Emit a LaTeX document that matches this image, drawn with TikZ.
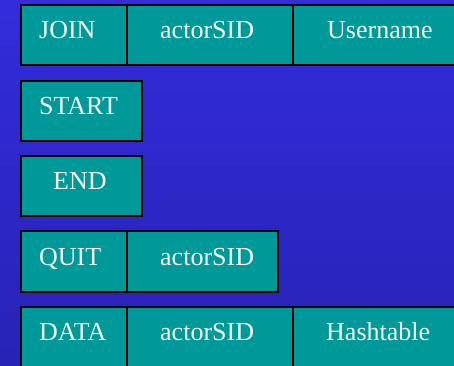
\documentclass[tikz,border=0pt]{standalone}
\usepackage{fontspec}
\setmainfont{Liberation Serif}
\definecolor{bgtop}{RGB}{50,44,220}
\definecolor{bgbot}{RGB}{40,34,182}
\definecolor{cellfill}{RGB}{0,153,153}
\definecolor{celltext}{RGB}{242,250,250}
\tikzset{
  cell/.style={draw=black, line width=1.7pt, fill=cellfill, inner sep=0pt,
               anchor=north west},
  lbl/.style={text=celltext, inner sep=0pt,
              font=\fontsize{26}{30}\selectfont, anchor=base west}
}
\begin{document}
\begin{tikzpicture}[x=1pt, y=-1pt]
  \useasboundingbox (0,0) rectangle (454,365);
  \shade[top color=bgtop, bottom color=bgbot] (0,0) rectangle (454,365);
  \clip (0,0) rectangle (454,365);

  % JOIN message
  \node[cell, minimum width=106pt, minimum height=60pt] (joincmd) at (20,4) {};
  \node[cell, minimum width=166pt, minimum height=60pt] (joinsid) at (126,4) {};
  \node[cell, minimum width=180pt, minimum height=60pt] (joinuser) at (292,4) {};
  \node[lbl] (tjoin) at (39,38.5) {JOIN};
  \node[lbl] (tjoinsid) at (160,38.5) {actorSID};
  \node[lbl] (tjoinuser) at (327,38.5) {Username};

  % START message
  \node[cell, minimum width=121pt, minimum height=60pt] (startcmd) at (20,80) {};
  \node[lbl] (tstart) at (39,114) {START};

  % END message
  \node[cell, minimum width=121pt, minimum height=60pt] (endcmd) at (20,155) {};
  \node[lbl] (tend) at (53,189) {END};

  % QUIT message
  \node[cell, minimum width=106pt, minimum height=61pt] (quitcmd) at (20,230) {};
  \node[cell, minimum width=151pt, minimum height=61pt] (quitsid) at (126,230) {};
  \node[lbl] (tquit) at (39,265) {QUIT};
  \node[lbl] (tquitsid) at (160,265) {actorSID};

  % DATA message
  \node[cell, minimum width=106pt, minimum height=80pt] (datacmd) at (20,306) {};
  \node[cell, minimum width=166pt, minimum height=80pt] (datasid) at (126,306) {};
  \node[cell, minimum width=180pt, minimum height=80pt] (datatable) at (292,306) {};
  \node[lbl] (tdata) at (39,340) {DATA};
  \node[lbl] (tdatasid) at (160,340) {actorSID};
  \node[lbl] (tdatatable) at (326,340) {Hashtable};
\end{tikzpicture}
\end{document}
